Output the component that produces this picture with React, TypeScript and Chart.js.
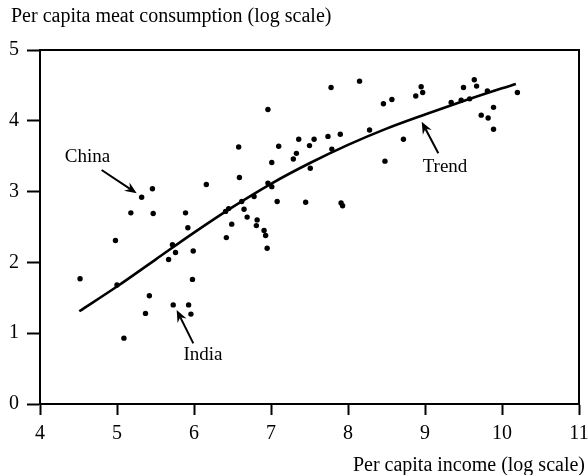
import React, { useEffect, useRef } from "react";
import { Chart, registerables } from "chart.js";

Chart.register(...registerables);

// Scatter: per capita income (log) vs per capita meat consumption (log)
const incomeLog = [
  5.32, 5.46, 6.16, 5.18, 5.47, 5.89, 5.92, 6.45, 6.41, 6.42,
  4.98, 5.72, 5.76, 5.99, 5.67, 4.52, 5.98, 5.0, 5.42, 5.73,
  5.93, 5.37, 5.96, 5.09, 6.59, 7.01, 7.29, 7.33, 7.51, 6.96,
  7.01, 6.78, 6.62, 6.65, 6.69, 6.82, 6.49, 6.81, 6.91, 6.93,
  6.95, 7.08, 7.45, 7.91, 7.93, 7.78, 8.15, 6.96, 6.58, 7.1,
  7.36, 7.56, 7.74, 7.9, 8.28, 7.5, 7.79, 8.46, 8.57, 8.88,
  8.95, 8.97, 9.34, 9.47, 9.5, 9.58, 9.64, 9.67, 9.81, 10.2,
  9.73, 9.82, 9.89, 9.89, 8.72, 8.48,
];
const meatLog = [
  2.92, 3.04, 3.1, 2.7, 2.69, 2.7, 2.49, 2.76, 2.72, 2.35,
  2.31, 2.25, 2.14, 2.16, 2.04, 1.77, 1.76, 1.68, 1.53, 1.4,
  1.4, 1.28, 1.27, 0.93, 3.2, 3.41, 3.46, 3.54, 3.33, 3.12,
  3.07, 2.93, 2.86, 2.75, 2.64, 2.6, 2.54, 2.52, 2.45, 2.38,
  2.2, 2.86, 2.85, 2.84, 2.8, 4.47, 4.56, 4.16, 3.63, 3.64,
  3.74, 3.74, 3.78, 3.81, 3.87, 3.65, 3.6, 4.24, 4.3, 4.35,
  4.48, 4.4, 4.26, 4.29, 4.47, 4.31, 4.58, 4.49, 4.42, 4.4,
  4.08, 4.04, 4.19, 3.88, 3.74, 3.43,
];

// Trend curve
const trendIncome = [4.51, 5, 5.5, 6, 6.5, 7, 7.5, 8, 8.5, 9, 9.5, 10, 10.18];
const trendMeat = [1.31, 1.66, 2.04, 2.42, 2.78, 3.11, 3.4, 3.66, 3.89, 4.09, 4.28, 4.46, 4.52];

const xTickValues = [4, 5, 6, 7, 8, 9, 10, 11];
const yTickValues = [0, 1, 2, 3, 4, 5];

const yAxisTitle = "Per capita meat consumption (log scale)";
const xAxisTitle = "Per capita income (log scale)";

const annotationLabels = ["China", "India", "Trend"];
const annotationTextX = [4.617, 6.117, 9.26];
const annotationTextY = [3.489, 0.692, 3.347];
const arrowFromX = [4.8, 5.991, 9.173];
const arrowFromY = [3.305, 0.857, 3.541];
const arrowToX = [5.256, 5.775, 8.957];
const arrowToY = [2.976, 1.328, 3.987];

const SERIF = '"Liberation Serif", "Times New Roman", serif';

const decorPlugin = {
  id: "decor",
  afterDraw(chart: any) {
    const { ctx, chartArea: a, scales } = chart;
    const xs = scales.x;
    const ys = scales.y;
    ctx.save();
    ctx.strokeStyle = "#000";
    ctx.fillStyle = "#000";
    ctx.lineWidth = 2;
    ctx.strokeRect(a.left, a.top, a.right - a.left, a.bottom - a.top);

    ctx.font = `20px ${SERIF}`;
    ctx.textAlign = "left";
    ctx.textBaseline = "alphabetic";
    ctx.fillText(yAxisTitle, 11, 22);
    ctx.textAlign = "right";
    ctx.fillText(xAxisTitle, 585, 471);

    ctx.font = `19px ${SERIF}`;
    ctx.textAlign = "center";
    ctx.textBaseline = "middle";
    for (let i = 0; i < annotationLabels.length; i++) {
      ctx.fillText(
        annotationLabels[i],
        xs.getPixelForValue(annotationTextX[i]),
        ys.getPixelForValue(annotationTextY[i])
      );
      const x1 = xs.getPixelForValue(arrowFromX[i]);
      const y1 = ys.getPixelForValue(arrowFromY[i]);
      const x2 = xs.getPixelForValue(arrowToX[i]);
      const y2 = ys.getPixelForValue(arrowToY[i]);
      const ang = Math.atan2(y2 - y1, x2 - x1);
      const c = Math.cos(ang);
      const s = Math.sin(ang);
      const head = 12;
      const notch = 8;
      const hw = 5;
      const bx = x2 - head * c;
      const by = y2 - head * s;
      const nx = x2 - notch * c;
      const ny = y2 - notch * s;
      ctx.lineWidth = 2;
      ctx.beginPath();
      ctx.moveTo(x1, y1);
      ctx.lineTo(nx, ny);
      ctx.stroke();
      ctx.beginPath();
      ctx.moveTo(x2, y2);
      ctx.lineTo(bx - hw * s, by + hw * c);
      ctx.lineTo(nx, ny);
      ctx.lineTo(bx + hw * s, by - hw * c);
      ctx.closePath();
      ctx.fill();
    }
    ctx.restore();
  },
};

export default function App() {
  const ref = useRef<HTMLCanvasElement | null>(null);

  useEffect(() => {
    const canvas = ref.current;
    if (!canvas) return;
    const scatterData = incomeLog.map((v, i) => ({ x: v, y: meatLog[i] }));
    const trendData = trendIncome.map((v, i) => ({ x: v, y: trendMeat[i] }));

    const chart = new Chart(canvas, {
      type: "scatter",
      data: {
        datasets: [
          {
            type: "line",
            data: trendData,
            borderColor: "#000",
            borderWidth: 2.6,
            pointRadius: 0,
            fill: false,
            cubicInterpolationMode: "monotone",
          } as any,
          {
            data: scatterData,
            backgroundColor: "#000",
            borderWidth: 0,
            pointRadius: 2.7,
          },
        ],
      },
      options: {
        responsive: false,
        animation: false,
        layout: { padding: { left: 0, right: 9, top: 50, bottom: 0 } },
        plugins: {
          legend: { display: false },
          tooltip: { enabled: false },
          title: { display: false },
        },
        scales: {
          x: {
            type: "linear",
            min: 4,
            max: 11,
            afterBuildTicks: (scale: any) => {
              scale.ticks = xTickValues.map((v) => ({ value: v }));
            },
            afterFit: (scale: any) => {
              scale.height = 71;
              scale.paddingLeft = 0;
              scale.paddingRight = 0;
            },
            ticks: {
              color: "#000",
              padding: 7,
              font: { family: SERIF, size: 20 },
              maxRotation: 0,
              callback: (v: any) => String(v),
            },
            grid: {
              display: true,
              drawOnChartArea: false,
              drawTicks: true,
              tickLength: 11,
              tickWidth: 2,
              tickColor: "#000",
            },
            border: { display: true, color: "#000", width: 2 },
          },
          y: {
            type: "linear",
            min: 0,
            max: 5,
            afterBuildTicks: (scale: any) => {
              scale.ticks = yTickValues.map((v) => ({ value: v }));
            },
            afterFit: (scale: any) => {
              scale.width = 40;
              scale.paddingTop = 0;
              scale.paddingBottom = 0;
            },
            ticks: {
              color: "#000",
              padding: 8,
              font: { family: SERIF, size: 20 },
              callback: (v: any) => String(v),
            },
            grid: {
              display: true,
              drawOnChartArea: false,
              drawTicks: true,
              tickLength: 13,
              tickWidth: 2,
              tickColor: "#000",
            },
            border: { display: true, color: "#000", width: 2 },
          },
        },
      },
      plugins: [decorPlugin],
    } as any);

    return () => chart.destroy();
  }, []);

  return (
    <div style={{ position: "fixed", left: 0, top: 0, width: 588, height: 475, background: "#fff" }}>
      <canvas ref={ref} width={588} height={475} />
    </div>
  );
}
